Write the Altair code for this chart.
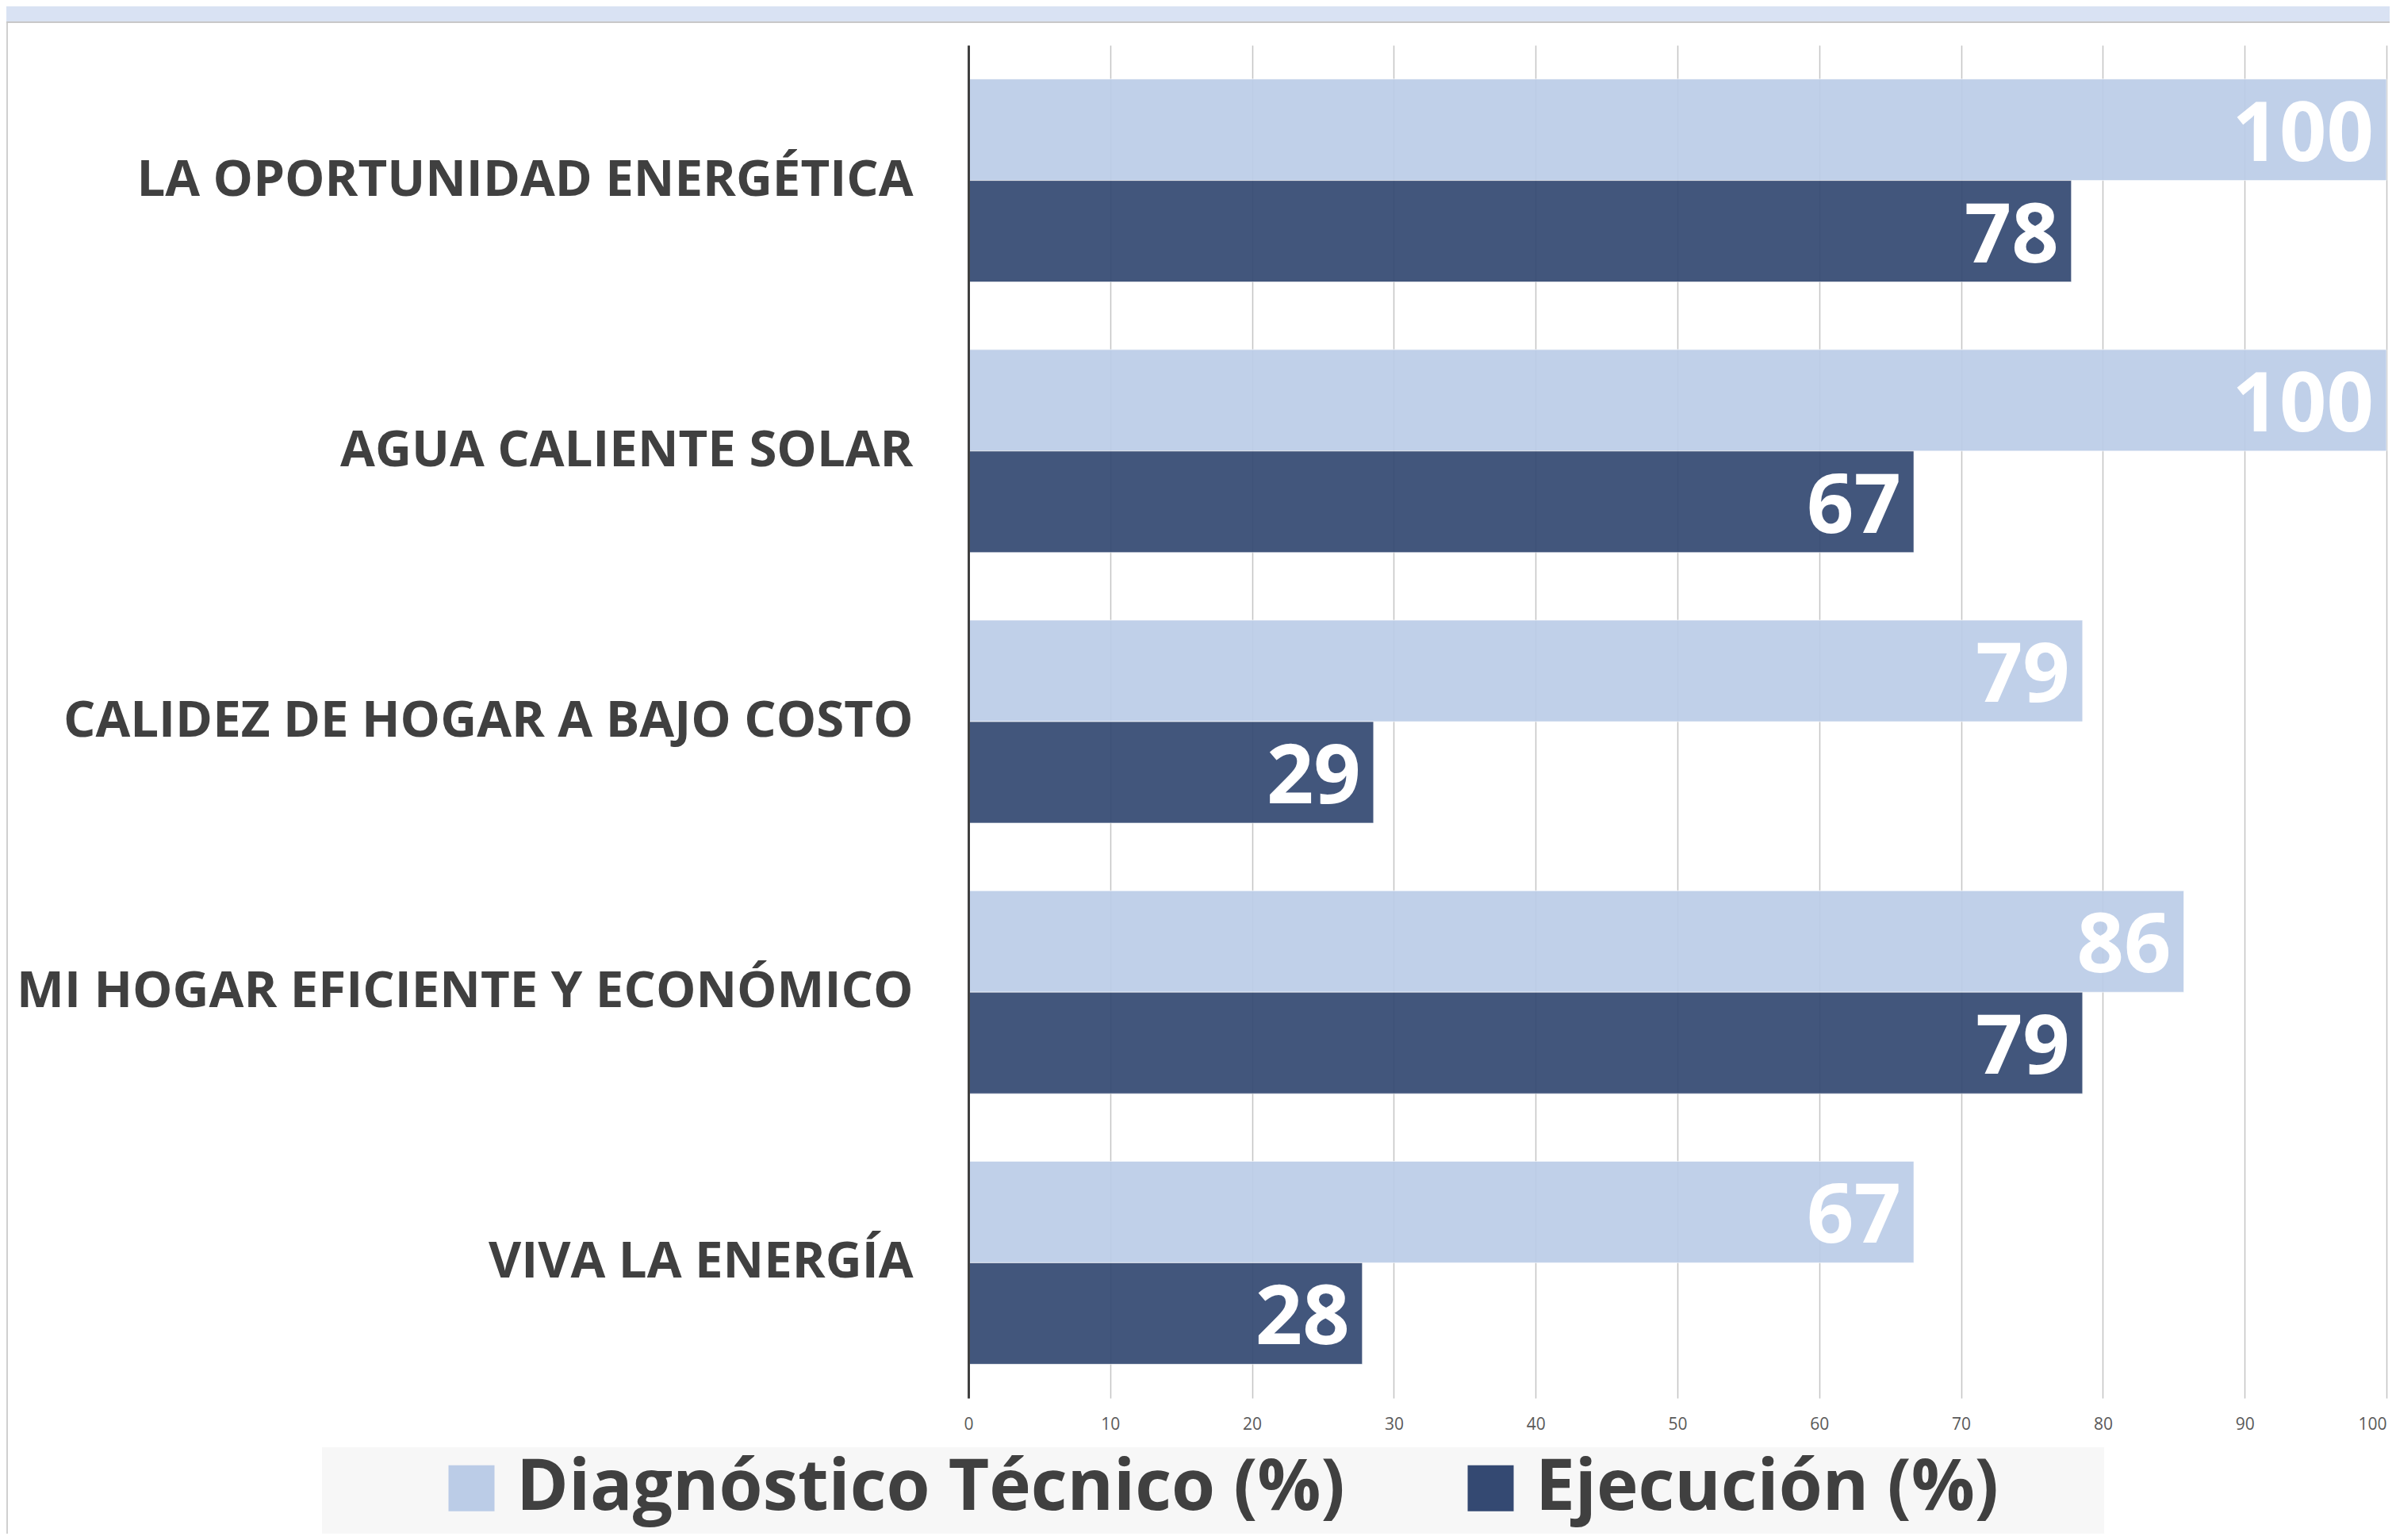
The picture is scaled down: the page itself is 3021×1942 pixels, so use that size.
import altair as alt
import pandas as pd

categories = [
    "LA OPORTUNIDAD ENERGÉTICA",
    "AGUA CALIENTE SOLAR",
    "CALIDEZ DE HOGAR A BAJO COSTO",
    "MI HOGAR EFICIENTE Y ECONÓMICO",
    "VIVA LA ENERGÍA",
]
series = ["Diagnóstico Técnico (%)", "Ejecución (%)"]
diagnostico = [100, 100, 78.57, 85.71, 66.67]
ejecucion = [77.78, 66.67, 28.57, 78.57, 27.78]
x_ticks = [0, 10, 20, 30, 40, 50, 60, 70, 80, 90, 100]
colors = ["#BBCCE7", "#344972"]

rows = []
for c, d, e in zip(categories, diagnostico, ejecucion):
    rows.append({"cat": c, "serie": series[0], "valor": d})
    rows.append({"cat": c, "serie": series[1], "valor": e})
df = pd.DataFrame(rows)

FONT = "Open Sans"
TXT = "#404040"

y_enc = alt.Y(
    "cat:N",
    sort=categories,
    scale=alt.Scale(paddingInner=0.25, paddingOuter=0.125),
    axis=alt.Axis(
        title=None, labelFontSize=63.5, labelFont=FONT, labelFontWeight="bold",
        labelColor=TXT, labelPadding=70, ticks=False, domainColor=TXT,
        domainWidth=3, labelLimit=2000, zindex=1, grid=False,
    ),
)
yoff = alt.YOffset("serie:N", sort=series, scale=alt.Scale(paddingInner=0, paddingOuter=0))
x_enc = alt.X(
    "valor:Q",
    scale=alt.Scale(domain=[0, 100], nice=False),
    axis=alt.Axis(
        values=x_ticks, labelFontSize=21, labelFont=FONT, labelColor="#595959",
        grid=True, gridColor="#C4C4C4", gridWidth=1.5, domain=False, ticks=False,
        labelPadding=22, title=None, labelFlush=False,
        labelAlign=alt.ExprRef(expr="datum.value == 100 ? 'right' : 'center'"),
    ),
)

bars = alt.Chart(df).mark_bar(
    fillOpacity=0.93, stroke="white", strokeWidth=1, strokeOpacity=0.6
).encode(
    y=y_enc,
    yOffset=yoff,
    x=x_enc,
    color=alt.Color(
        "serie:N",
        sort=series,
        scale=alt.Scale(domain=series, range=colors),
        legend=alt.Legend(
            orient="none", legendX=-671, legendY=1775, direction="horizontal",
            title=None, symbolType="square", symbolSize=3364, symbolStrokeWidth=0,
            symbolOpacity=1, labelFontSize=89, labelFont=FONT, labelFontWeight="bold",
            labelColor=TXT, labelOffset=12, columnPadding=139, labelLimit=2000,
            padding=0,
        ),
    ),
)

labels = alt.Chart(df).mark_text(
    align="right", baseline="middle", dx=-16, dy=8, color="white",
    font=FONT, fontWeight="bold", fontSize=104,
).encode(
    y=alt.Y("cat:N", sort=categories),
    yOffset=alt.YOffset("serie:N", sort=series),
    x=alt.X("valor:Q"),
    text=alt.Text("valor:Q", format=".0f"),
)

one = pd.DataFrame({"k": [0]})
top_band = alt.Chart(one).mark_rect(color="#D9E2F3").encode(
    x=alt.value(-1213), x2=alt.value(1800), y=alt.value(-49), y2=alt.value(-30)
)
top_line = alt.Chart(one).mark_rect(color="#C8C8C8").encode(
    x=alt.value(-1213), x2=alt.value(1800), y=alt.value(-30), y2=alt.value(-28)
)
left_line = alt.Chart(one).mark_rect(color="#D0D0D0").encode(
    x=alt.value(-1213), x2=alt.value(-1211), y=alt.value(-28), y2=alt.value(1877)
)
legend_bg = alt.Chart(one).mark_rect(color="#F7F7F7").encode(
    x=alt.value(-815), x2=alt.value(1432), y=alt.value(1768), y2=alt.value(1877)
)

chart = alt.layer(top_band, top_line, left_line, legend_bg, bars, labels).properties(
    width=1788, height=1706, background="white",
    padding={"left": 1213, "top": 49, "right": 4, "bottom": 171},
    autosize=alt.AutoSizeParams(type="none"),
).configure_view(stroke=None)

chart.save("out.html", embed_options={"renderer": "svg", "actions": False})
